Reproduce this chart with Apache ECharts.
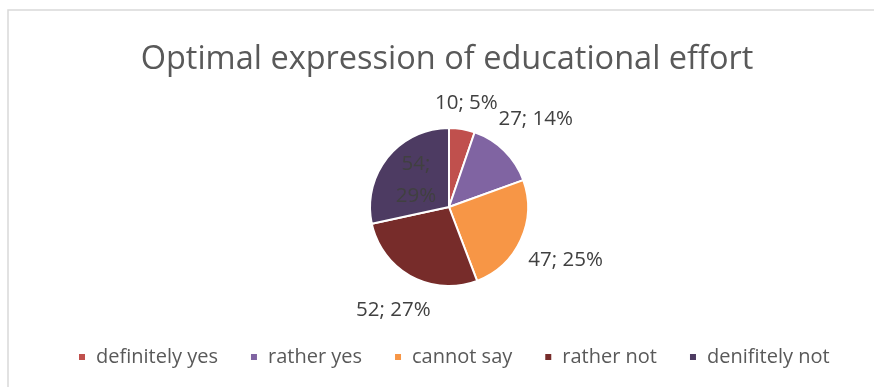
<!DOCTYPE html>
<html>
<head>
<meta charset="utf-8">
<script src="https://cdn.jsdelivr.net/npm/echarts@6/dist/echarts.min.js"></script>
<style>
  html, body { margin: 0; padding: 0; background: #fff; }
  #chart { width: 874px; height: 387px; }
</style>
</head>
<body>
<div id="chart"></div>
<script>
const categories = ['definitely yes', 'rather yes', 'cannot say', 'rather not', 'denifitely not'];
const counts = [10, 27, 47, 52, 54];
const percentLabels = ['5%', '14%', '25%', '27%', '29%'];
const sliceColors = ['#C0504D', '#8064A2', '#F79646', '#772C2A', '#4D3B62'];
const insideLabels = [false, false, false, false, true];

const FONT = '"Open Sans", "Noto Sans", sans-serif';

const chart = echarts.init(document.getElementById('chart'));

const pieData = categories.map((name, i) => ({
  name: name,
  value: counts[i],
  itemStyle: { color: sliceColors[i] },
  label: insideLabels[i]
    ? { position: 'inside', formatter: counts[i] + ';\n' + percentLabels[i], lineHeight: 32 }
    : { position: 'outside', formatter: counts[i] + '; ' + percentLabels[i] }
}));

// put outside labels just clear of the slice, along the slice's mid direction
function placeLabel(params) {
  const pts = params.labelLinePoints;
  if (!pts || insideLabels[params.dataIndex]) return {};
  const dx = pts[1][0] - pts[0][0];
  const dy = pts[1][1] - pts[0][1];
  const len = Math.sqrt(dx * dx + dy * dy) || 1;
  const ux = dx / len, uy = dy / len;
  const w = params.labelRect.width, h = params.labelRect.height;
  const ext = Math.abs(ux) * w / 2 + Math.abs(uy) * h / 2;
  const d = 11 + ext;
  return {
    x: pts[0][0] + ux * d,
    y: pts[0][1] + uy * d,
    align: 'center',
    verticalAlign: 'middle'
  };
}

const option = {
  backgroundColor: '#fff',
  animation: false,
  graphic: [{
    type: 'rect',
    shape: { x: 8, y: 10, width: 900, height: 420 },
    style: { fill: 'none', stroke: '#d9d9d9', lineWidth: 1.5 },
    silent: true
  }],
  title: {
    text: 'Optimal expression of educational effort',
    left: 442,
    top: 38,
    textAlign: 'center',
    textStyle: {
      color: '#595959',
      fontFamily: FONT,
      fontWeight: 'normal',
      fontSize: 32.5
    }
  },
  legend: {
    left: 72,
    top: 342,
    icon: 'rect',
    itemWidth: 8,
    itemHeight: 8,
    itemGap: 31,
    textStyle: {
      color: '#595959',
      fontFamily: FONT,
      fontSize: 20,
      padding: [0, 0, 0, 5]
    },
    data: categories
  },
  series: [{
    type: 'pie',
    center: [449, 207],
    radius: 79,
    startAngle: 90,
    clockwise: true,
    avoidLabelOverlap: false,
    itemStyle: { borderColor: '#fff', borderWidth: 2 },
    label: {
      color: '#404040',
      fontFamily: FONT,
      fontSize: 20.5
    },
    labelLine: { show: true, length: 10, length2: 0, lineStyle: { opacity: 0 } },
    labelLayout: placeLabel,
    data: pieData
  }]
};

chart.setOption(option);
</script>
</body>
</html>
